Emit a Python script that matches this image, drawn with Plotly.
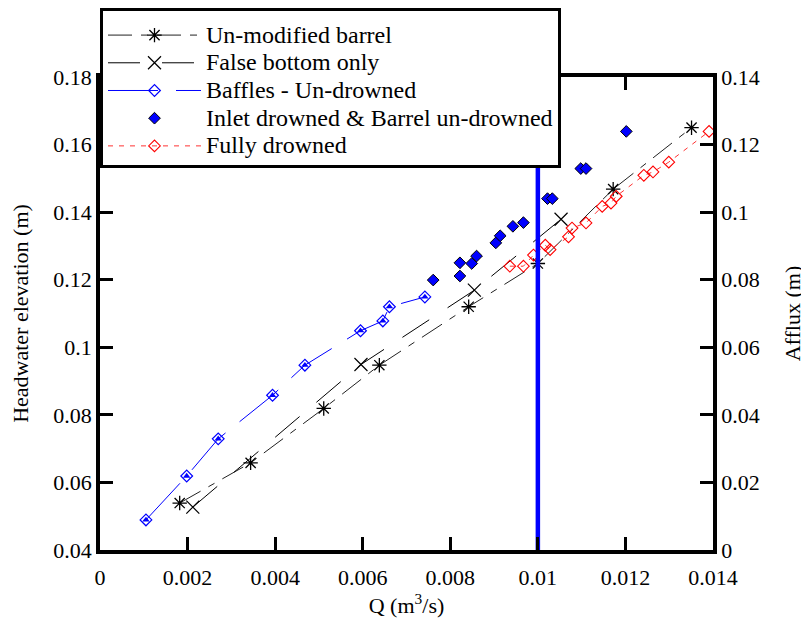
import plotly.graph_objects as go

# ---- data ----
unmod_q = [0.00182, 0.00344, 0.00511, 0.00638, 0.00842, 0.01000, 0.01172, 0.01351]
unmod_h = [0.0539, 0.0658, 0.0819, 0.0947, 0.1120, 0.1248, 0.1468, 0.1650]

false_q = [0.00212, 0.00596, 0.00855, 0.01053]
false_h = [0.0527, 0.0949, 0.1169, 0.1379]

baffle_q = [0.00105, 0.00198, 0.00270, 0.00394, 0.00468, 0.00595, 0.00646, 0.00661, 0.00742]
baffle_h = [0.0489, 0.0619, 0.0729, 0.0858, 0.0947, 0.1049, 0.1078, 0.1120, 0.1149]

inlet_q = [0.00761, 0.00822, 0.00822, 0.00849, 0.00860, 0.00904, 0.00914, 0.00943,
           0.00967, 0.01022, 0.01033, 0.01098, 0.01110, 0.01202]
inlet_h = [0.1199, 0.1211, 0.1250, 0.1248, 0.1270, 0.1309, 0.1330, 0.1358,
           0.1369, 0.1440, 0.1440, 0.1529, 0.1529, 0.1639]

full_q = [0.00936, 0.00967, 0.00990, 0.01017, 0.01028, 0.01070, 0.01078, 0.01110,
          0.01147, 0.01167, 0.01179, 0.01242, 0.01263, 0.01299, 0.01391]
full_h = [0.1240, 0.1240, 0.1273, 0.1302, 0.1289, 0.1327, 0.1353, 0.1368,
          0.1417, 0.1427, 0.1447, 0.1509, 0.1519, 0.1548, 0.1639]

limit_q = [0.01, 0.01]
limit_afflux = [0.0, 0.14]

series_names = ["Un-modified barrel", "False bottom only", "Baffles - Un-drowned",
                "Inlet drowned &amp; Barrel un-drowned", "Fully drowned"]

x_ticks = [0, 0.002, 0.004, 0.006, 0.008, 0.01, 0.012, 0.014]
x_labels = ["0", "0.002", "0.004", "0.006", "0.008", "0.01", "0.012", "0.014"]
y_ticks = [0.04, 0.06, 0.08, 0.1, 0.12, 0.14, 0.16, 0.18]
y_labels = ["0.04", "0.06", "0.08", "0.1", "0.12", "0.14", "0.16", "0.18"]
y2_ticks = [0, 0.02, 0.04, 0.06, 0.08, 0.1, 0.12, 0.14]
y2_labels = ["0", "0.02", "0.04", "0.06", "0.08", "0.1", "0.12", "0.14"]

FONT = "Liberation Serif, Times New Roman, DejaVu Serif, serif"
BLUE = "#0000ff"
RED = "#ff0000"


def lname(s):
    return '<span style="font-size:24px">' + s + '</span>'


fig = go.Figure()

fig.add_trace(go.Scatter(
    x=unmod_q, y=unmod_h, name=lname(series_names[0]), mode="lines+markers",
    line=dict(color="#222222", width=1, dash="24px,9px,7px,9px"),
    marker=dict(symbol="asterisk-open", size=12, color="black",
                line=dict(color="black", width=1.3)),
))
fig.add_trace(go.Scatter(
    x=false_q, y=false_h, name=lname(series_names[1]), mode="lines+markers",
    line=dict(color="black", width=1, dash="32px,22px"),
    marker=dict(symbol="x-thin-open", size=13, color="black",
                line=dict(color="black", width=1.2)),
))
fig.add_trace(go.Scatter(
    x=baffle_q, y=baffle_h, name=lname(series_names[2]), mode="lines+markers",
    line=dict(color=BLUE, width=1, dash="50px,18px"),
    marker=dict(symbol="diamond-open", size=9, color=BLUE,
                line=dict(color=BLUE, width=1.2)),
))
fig.add_trace(go.Scatter(
    x=baffle_q, y=baffle_h, mode="markers", showlegend=False, hoverinfo="skip",
    marker=dict(symbol="triangle-up", size=6.5, color=BLUE, line=dict(width=0)),
))
fig.add_trace(go.Scatter(
    x=inlet_q, y=inlet_h, name=lname(series_names[3]), mode="markers",
    marker=dict(symbol="diamond", size=9, color=BLUE,
                line=dict(color="black", width=1)),
))
fig.add_trace(go.Scatter(
    x=full_q, y=full_h, name=lname(series_names[4]), mode="lines+markers",
    line=dict(color="#ff3333", width=1, dash="5px,6px"),
    marker=dict(symbol="diamond-open", size=9, color=RED,
                line=dict(color=RED, width=1.1)),
))
fig.add_trace(go.Scatter(
    x=limit_q, y=limit_afflux, yaxis="y2", mode="lines", showlegend=False,
    hoverinfo="skip", line=dict(color=BLUE, width=4.5),
))

axis_common = dict(
    showline=True, linecolor="black", linewidth=3.5,
    ticks="inside", ticklen=13, tickwidth=3, tickcolor="black",
    showgrid=False, zeroline=False,
    tickfont=dict(family=FONT, size=22, color="black"),
)

fig.update_layout(
    width=801, height=615,
    margin=dict(l=92, r=96, t=69, b=73, pad=0, autoexpand=False),
    paper_bgcolor="white", plot_bgcolor="white",
    font=dict(family=FONT, size=22, color="black"),
    xaxis=dict(
        range=[0, 0.014], tickvals=x_ticks, ticktext=x_labels, mirror="ticks",
        ticklabelstandoff=5,
        title=dict(text="Q (m<sup>3</sup>/s)", font=dict(family=FONT, size=22), standoff=4),
        **axis_common,
    ),
    yaxis=dict(
        range=[0.04, 0.18], tickvals=y_ticks, ticktext=y_labels,
        title=dict(text="Headwater elevation (m)", font=dict(family=FONT, size=22), standoff=22),
        **axis_common,
    ),
    yaxis2=dict(
        range=[0, 0.14], tickvals=y2_ticks, ticktext=y2_labels,
        overlaying="y", side="right", anchor="x",
        title=dict(text="Afflux (m)", font=dict(family=FONT, size=22), standoff=27),
        **axis_common,
    ),
    legend=dict(
        x=0.0, y=1.1458, xanchor="left", yanchor="top",
        bgcolor="white", bordercolor="black", borderwidth=3,
        font=dict(family=FONT, size=19, color="black"),
        title=dict(text=" ", font=dict(family=FONT, size=4)),
        itemwidth=93, tracegroupgap=0,
    ),
    showlegend=True,
)

fig.write_html("out.html")
